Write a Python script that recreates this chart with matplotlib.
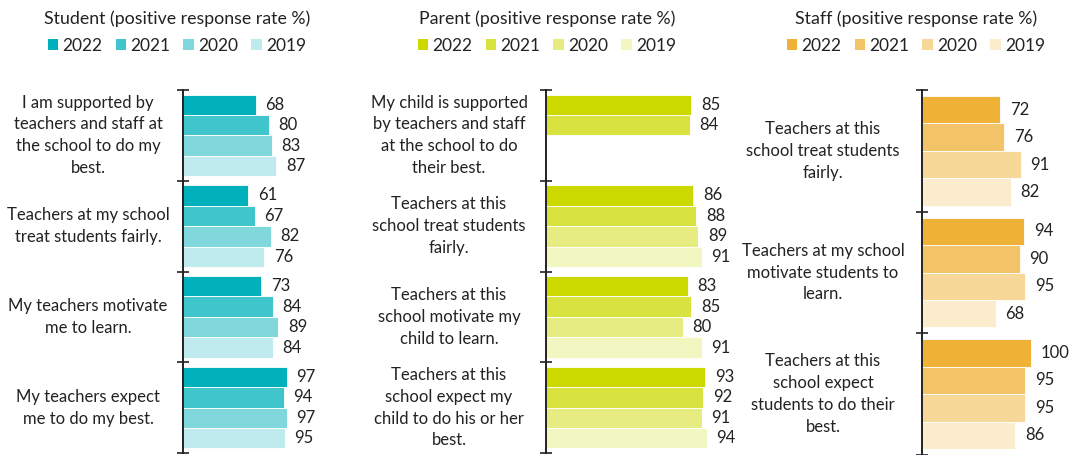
import numpy as np
import matplotlib.pyplot as plt
from matplotlib.patches import Patch
from matplotlib.transforms import blended_transform_factory

plt.rcParams['font.family'] = ['Lato', 'DejaVu Sans']

years = ['2022', '2021', '2020', '2019']

student_items = [
    'I am supported by\nteachers and staff at\nthe school to do my\nbest.',
    'Teachers at my school\ntreat students fairly.',
    'My teachers motivate\nme to learn.',
    'My teachers expect\nme to do my best.',
]
student_2022 = [68, 61, 73, 97]
student_2021 = [80, 67, 84, 94]
student_2020 = [83, 82, 89, 97]
student_2019 = [87, 76, 84, 95]

parent_items = [
    'My child is supported\nby teachers and staff\nat the school to do\ntheir best.',
    'Teachers at this\nschool treat students\nfairly.',
    'Teachers at this\nschool motivate my\nchild to learn.',
    'Teachers at this\nschool expect my\nchild to do his or her\nbest.',
]
parent_2022 = [85, 86, 83, 93]
parent_2021 = [84, 88, 85, 92]
parent_2020 = [np.nan, 89, 80, 91]
parent_2019 = [np.nan, 91, 91, 94]

staff_items = [
    'Teachers at this\nschool treat students\nfairly.',
    'Teachers at my school\nmotivate students to\nlearn.',
    'Teachers at this\nschool expect\nstudents to do their\nbest.',
]
staff_2022 = [72, 94, 100]
staff_2021 = [76, 90, 95]
staff_2020 = [91, 95, 95]
staff_2019 = [82, 68, 86]

student_colors = ['#00b1bc', '#40c5cc', '#80d8dd', '#c0ebee']
parent_colors = ['#ccd900', '#d9e33f', '#e6ec80', '#f2f6c0']
staff_colors = ['#efb236', '#f2c467', '#f7d899', '#fbecce']

TXT = '#222222'
W, H = 1090, 455

fig = plt.figure(figsize=(W / 100, H / 100), dpi=100)

panels = [
    # title, items, series, colours, axes left px, top px, bottom px, xmax, label centre px, title centre px
    ('Student (positive response rate %)', student_items,
     [student_2022, student_2021, student_2020, student_2019], student_colors,
     183, 90, 453, 130, 88, 177),
    ('Parent (positive response rate %)', parent_items,
     [parent_2022, parent_2021, parent_2020, parent_2019], parent_colors,
     546, 90, 453, 100, 449, 547),
    ('Staff (positive response rate %)', staff_items,
     [staff_2022, staff_2021, staff_2020, staff_2019], staff_colors,
     922, 90, 455, 140, 823, 916),
]

px_per_unit = {183: 1.07, 546: 1.71, 922: 1.085}

for title, items, series, colors, left, top, bottom, xmax, lab_x, tit_x in panels:
    width = px_per_unit[left] * xmax
    ax = fig.add_axes([left / W, (H - bottom) / H, width / W, (bottom - top) / H])
    n = len(items)
    bh = 0.225
    for j, (vals, col) in enumerate(zip(series, colors)):
        y = np.arange(n) + 0.05 + (j + 0.5) * bh
        bars = ax.barh(y, vals, height=bh, color=col, edgecolor='white', linewidth=0.6)
        labels = ['' if np.isnan(v) else f'{v:g}' for v in vals]
        ax.bar_label(bars, labels=labels, padding=7, fontsize=12, color=TXT)

    ax.set_xlim(0, xmax)
    ax.set_ylim(n, 0)
    ax.set_yticks(np.arange(n + 1))
    ax.set_yticklabels([])
    ax.set_xticks([])
    ax.tick_params(axis='y', direction='inout', length=8, width=1.2, color='#222222')
    for side in ['top', 'right', 'bottom']:
        ax.spines[side].set_visible(False)
    ax.spines['left'].set_linewidth(1.4)
    ax.spines['left'].set_color('#222222')

    tr = blended_transform_factory(fig.transFigure, ax.transData)
    for i, item in enumerate(items):
        ax.text(lab_x / W, i + 0.5, item, transform=tr, ha='center', va='center',
                multialignment='center', fontsize=12, color=TXT, linespacing=1.45)

    fig.text(tit_x / W, 1 - 19 / H, title, ha='center', va='center', fontsize=12.8, color=TXT)
    handles = [Patch(facecolor=c, edgecolor='none', label=yr) for c, yr in zip(colors, years)]
    fig.legend(handles=handles, loc='center', bbox_to_anchor=(tit_x / W, 1 - 46 / H),
               ncol=4, frameon=False, fontsize=12.5, handlelength=0.6, handleheight=0.6,
               handletextpad=0.25, columnspacing=0.75, labelcolor=TXT)

fig.savefig('out.png', dpi=100)
